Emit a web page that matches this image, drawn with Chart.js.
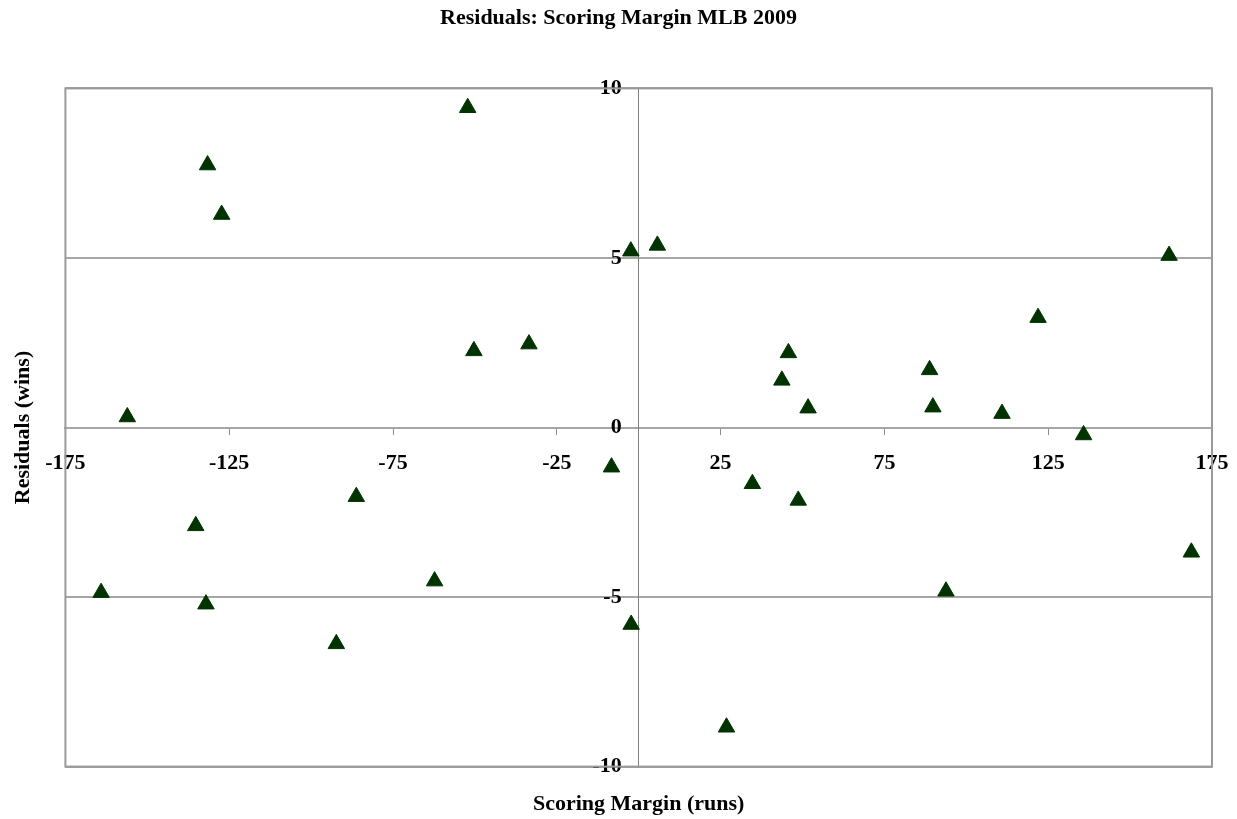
<!DOCTYPE html>
<html>
<head>
<meta charset="utf-8">
<script src="https://cdn.jsdelivr.net/npm/chart.js@4/dist/chart.umd.min.js"></script>
<style>
  html, body { margin: 0; padding: 0; background: #ffffff; }
  canvas { display: block; }
</style>
</head>
<body>
<canvas id="c" width="1237" height="819"></canvas>
<script>
// Scoring margin (runs) for each of the 30 teams
const scoringMargin = [
  -52.2, -131.6, -127.3, -2.4, 5.7, 161.9, 121.9, -33.5, -50.3, 45.7,
  88.8, 43.7, -156.1, 51.7, 89.8, 110.9, 135.8, -8.3, -86.2, 34.7,
  48.7, -135.2, 168.7, -164.1, -62.3, -132.1, 93.8, -2.3, -92.3, 26.8
];
// Residuals (wins) for each team
const residualWins = [
  9.43, 7.74, 6.28, 5.20, 5.37, 5.07, 3.24, 2.46, 2.26, 2.20,
  1.70, 1.39, 0.31, 0.57, 0.60, 0.41, -0.22, -1.17, -2.04, -1.66,
  -2.15, -2.90, -3.68, -4.87, -4.53, -5.21, -4.83, -5.81, -6.38, -8.84
];
const xTickValues = [-175, -125, -75, -25, 25, 75, 125, 175];
const yTickValues = [-10, -5, 0, 5, 10];

const chartTitle = 'Residuals: Scoring Margin MLB 2009';
const xAxisTitle = 'Scoring Margin (runs)';
const yAxisTitle = 'Residuals (wins)';

const points = scoringMargin.map((x, i) => ({ x: x, y: residualWins[i] }));

const serif = 'Liberation Serif, "Times New Roman", serif';
const textFont = { family: serif, size: 22, weight: 'bold' };

const frame = {
  id: 'frame',
  afterDatasetsDraw(chart) {
    const { ctx, chartArea } = chart;
    ctx.save();
    ctx.strokeStyle = '#9a9a9a';
    ctx.lineWidth = 2;
    ctx.strokeRect(chartArea.left, chartArea.top, chartArea.right - chartArea.left, chartArea.bottom - chartArea.top);
    ctx.restore();
  }
};

new Chart(document.getElementById('c'), {
  type: 'scatter',
  data: {
    datasets: [{
      label: 'Residuals',
      data: points,
      pointStyle: 'triangle',
      pointRadius: 9.5,
      pointHoverRadius: 9.5,
      backgroundColor: '#003300',
      borderColor: '#003300',
      borderWidth: 1
    }]
  },
  options: {
    responsive: false,
    animation: false,
    layout: { padding: 0 },
    plugins: {
      legend: { display: false },
      tooltip: { enabled: false },
      title: {
        display: true,
        text: chartTitle,
        color: '#000000',
        font: textFont,
        padding: { top: 5, bottom: 57 }
      }
    },
    scales: {
      x: {
        type: 'linear',
        position: 'center',
        min: -175,
        max: 175,
        afterBuildTicks(scale) { scale.ticks = xTickValues.map(v => ({ value: v })); },
        afterFit(scale) { scale.paddingLeft = 0; scale.paddingRight = 0; },
        ticks: { color: '#000000', font: textFont, padding: 17, maxRotation: 0, autoSkip: false },
        grid: { display: true, drawOnChartArea: false, drawTicks: true, tickLength: 6, color: '#8c8c8c', lineWidth: 1 },
        border: { display: true, color: '#a6a6a6', width: 2 }
      },
      y: {
        type: 'linear',
        position: 'center',
        min: -10,
        max: 10,
        afterBuildTicks(scale) { scale.ticks = yTickValues.map(v => ({ value: v })); },
        afterFit(scale) { scale.paddingTop = 0; scale.paddingBottom = 0; },
        ticks: { color: '#000000', font: textFont, padding: 11, autoSkip: false },
        grid: { display: true, drawOnChartArea: true, drawTicks: true, tickLength: 6, color: '#a6a6a6', lineWidth: 2 },
        border: { display: true, color: '#808080', width: 1 }
      },
      xTitle: {
        type: 'linear',
        position: 'bottom',
        min: 0, max: 1,
        ticks: { display: false },
        grid: { display: false, drawTicks: false },
        border: { display: false },
        title: { display: true, text: xAxisTitle, color: '#000000', font: textFont, padding: { top: 25, bottom: 1 } }
      },
      yTitle: {
        type: 'linear',
        position: 'left',
        min: 0, max: 1,
        ticks: { display: false },
        grid: { display: false, drawTicks: false },
        border: { display: false },
        title: { display: true, text: yAxisTitle, color: '#000000', font: textFont, padding: { top: 10, bottom: 29 } }
      },
      rightSpace: {
        type: 'linear',
        position: 'right',
        min: 0, max: 1,
        ticks: { display: false },
        grid: { display: false, drawTicks: false },
        border: { display: false },
        afterFit(scale) { scale.width = 25; }
      }
    }
  },
  plugins: [frame]
});
</script>
</body>
</html>
